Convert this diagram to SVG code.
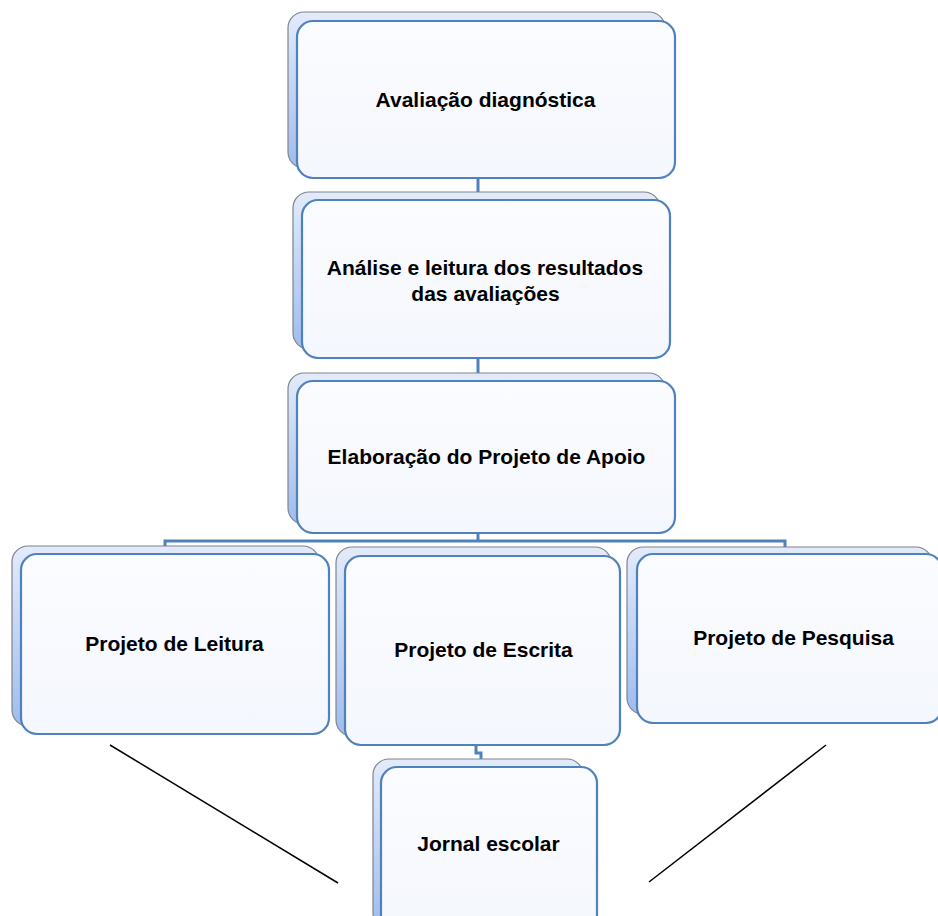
<svg xmlns="http://www.w3.org/2000/svg" width="938" height="916" viewBox="0 0 938 916">
<defs>
<linearGradient id="backg" x1="0" y1="0" x2="0" y2="1">
<stop offset="0" stop-color="#e3ebfa"/>
<stop offset="1" stop-color="#9fbcee"/>
</linearGradient>
<linearGradient id="frontg" x1="0" y1="0" x2="0" y2="1">
<stop offset="0" stop-color="#fbfcff"/>
<stop offset="1" stop-color="#f4f7fd"/>
</linearGradient>
<style>
.back{fill:url(#backg);stroke:#7f848c;stroke-width:1.2}
.front{fill:url(#frontg);stroke:#4f81bd;stroke-width:2.2}
.lbl{font-family:"Liberation Sans",Arial,sans-serif;font-weight:bold;font-size:21px;fill:#000;text-anchor:middle}
.conn{fill:none;stroke:#4f81bd;stroke-width:3}
.line{stroke:#000;stroke-width:1.5}
</style>
</defs>
<rect width="938" height="916" fill="#fff"/>
<g id="connectors">
<path class="conn" d="M478 178 V192"/>
<path class="conn" d="M478 358 V373"/>
<path class="conn" d="M478 533 V541"/>
<path class="conn" d="M165 551 V541 H785 V549"/>
<path class="conn" d="M476 745 V753 H481 V760"/>
<line class="line" x1="110" y1="745" x2="338" y2="883"/>
<line class="line" x1="826" y1="745" x2="649" y2="882"/>
</g>
<g id="n1">
<rect class="back" x="288" y="12" width="377" height="156" rx="16"/>
<rect class="front" x="297" y="21" width="378" height="157" rx="16"/>
<text class="lbl" x="485.5" y="107">Avaliação diagnóstica</text>
</g>
<g id="n2">
<rect class="back" x="293" y="192" width="367" height="157" rx="16"/>
<rect class="front" x="302" y="200" width="368" height="158" rx="16"/>
<text class="lbl" x="485" y="275">Análise e leitura dos resultados</text>
<text class="lbl" x="485.5" y="301">das avaliações</text>
</g>
<g id="n3">
<rect class="back" x="288" y="373" width="377" height="151" rx="16"/>
<rect class="front" x="297" y="381" width="378" height="152" rx="16"/>
<text class="lbl" x="486.5" y="464">Elaboração do Projeto de Apoio</text>
</g>
<g id="n4">
<rect class="back" x="12" y="546" width="307" height="180" rx="16"/>
<rect class="front" x="21" y="554" width="308" height="180" rx="16"/>
<text class="lbl" x="174.5" y="651">Projeto de Leitura</text>
</g>
<g id="n5">
<rect class="back" x="336" y="547" width="275" height="189" rx="16"/>
<rect class="front" x="345" y="556" width="275" height="189" rx="16"/>
<text class="lbl" x="483.5" y="657">Projeto de Escrita</text>
</g>
<g id="n6">
<rect class="back" x="627" y="547" width="305" height="167" rx="16"/>
<rect class="front" x="637" y="554" width="305" height="169" rx="16"/>
<text class="lbl" x="793.5" y="645">Projeto de Pesquisa</text>
</g>
<g id="n7">
<rect class="back" x="373" y="759" width="210" height="170" rx="16"/>
<rect class="front" x="381" y="767" width="216" height="170" rx="16"/>
<text class="lbl" x="488.5" y="851">Jornal escolar</text>
</g>
</svg>
